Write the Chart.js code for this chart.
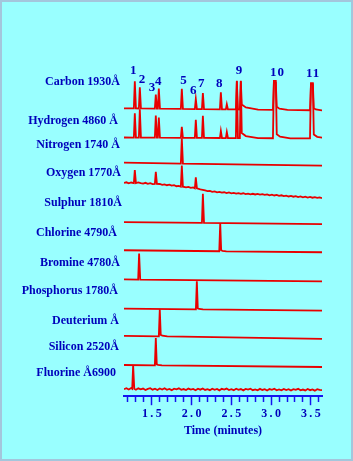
<!DOCTYPE html>
<html>
<head>
<meta charset="utf-8">
<style>
  html, body { margin: 0; padding: 0; background: #99ffff; }
  canvas { display: block; }
</style>
</head>
<body>
<canvas id="chrom" width="353" height="461"></canvas>
<script src="https://cdn.jsdelivr.net/npm/chart.js"></script>
<script>
// channel names, top to bottom
const channels = ['Carbon 1930Å', 'Hydrogen 4860 Å', 'Nitrogen 1740 Å', 'Oxygen 1770Å', 'Sulphur 1810Å',
  'Chlorine 4790Å', 'Bromine 4780Å', 'Phosphorus 1780Å', 'Deuterium Å', 'Silicon 2520Å', 'Fluorine Å6900'];

// peak numbers and their retention times (min)
const peakNumbers = ['1', '2', '3', '4', '5', '6', '7', '8', '9', '10', '11'];
const peakNumberTimes = [1.274, 1.383, 1.509, 1.588, 1.903, 2.028, 2.129, 2.355, 2.603, 3.081, 3.529];

// peaks per channel: [time, height, tail, flat half-width]
const carbonPeaks = [[1.286, 27], [1.349, 21], [1.550, 14], [1.588, 20], [1.877, 20], [2.053, 10], [2.142, 16],
  [2.368, 17], [2.443, 5], [2.569, 28, 0], [2.619, 28, 5], [3.047, 27, 3, 0.012], [3.513, 26, 2, 0.012]];
const hydrogenPeaks = [[1.286, 24], [1.349, 28], [1.550, 22], [1.588, 20], [1.877, 11], [2.053, 18], [2.142, 22],
  [2.368, 7], [2.443, 6], [2.569, 57, 0], [2.619, 57, 5], [3.047, 57, 4, 0.012], [3.513, 55, 4, 0.012]];
const nitrogenPeaks = [[1.877, 25]];
const oxygenPeaks = [[1.286, 13], [1.550, 12], [1.877, 21], [2.053, 11]];
const sulphurPeaks = [[2.142, 29]];
const chlorinePeaks = [[2.360, 28, 1]];
const brominePeaks = [[1.340, 26]];
const phosphorusPeaks = [[2.066, 28, 1]];
const deuteriumPeaks = [[1.600, 27, 1.5]];
const siliconPeaks = [[1.550, 27, 1]];
const fluorinePeaks = [[1.265, 23]];

// baselines (start, end) for the clean channels
const carbonBase = [[1.15, 0], [3.64, -2]];
const hydrogenBase = [[1.15, 0], [3.64, -1]];
const nitrogenBase = [[1.15, 0], [3.64, -3]];
const sulphurBase = [[1.15, 0], [3.64, -2]];
const chlorineBase = [[1.15, 0], [3.64, -2]];
const bromineBase = [[1.15, 0], [3.64, -2]];
const phosphorusBase = [[1.15, 0], [3.64, -2]];
const deuteriumBase = [[1.15, 0], [3.64, -3]];
const siliconBase = [[1.15, 0], [3.64, -2]];

// noisy baselines, sampled every 0.03 min from 1.15
const sampleStart = 1.15, sampleStep = 0.03;
const oxygenNoise = [0, 0.5, -0.5, 0.3, 0, -0.6, 0.4, -0.3, -0.8, 0, -1, -0.4, -1.3, -0.8, -1.6, -1.2, -2, -1.5,
  -2.4, -1.8, -2.8, -2.3, -3.4, -3, -4, -3.6, -4.5, -4, -5, -4.6, -5.5, -5.2, -6.5, -7, -7.6, -8.3, -8, -9,
  -8.6, -9.5, -9, -9.8, -9.4, -10.2, -9.6, -10.4, -10, -10.8, -10.2, -11, -10.4, -11.2, -10.8, -11.5, -10.9,
  -11.6, -11, -11.8, -11.3, -12, -11.5, -12.4, -11.8, -12.6, -12, -13, -12.4, -13.2, -12.8, -13.6, -13, -13.8,
  -13.2, -14.2, -13.6, -14.4, -13.8, -14.6, -14, -14.8, -14.3, -15, -14.5, -15.2];
const fluorineNoise = [0, 0.9, -0.4, 1.1, 0.2, -0.6, 0.8, -0.2, 0.6, -0.8, 0.3, 1, -0.5, 0.4, -0.9, 0.7, -0.3,
  0.9, -0.6, 0.2, -1, 0.5, -0.2, 0.8, -0.7, 0.1, -0.9, 0.6, -0.4, 0.3, -1.1, 0.4, -0.5, 0.7, -0.8, 0, -1, 0.5,
  -0.6, 0.2, -1.2, 0.3, -0.4, 0.6, -0.9, -0.1, -1, 0.4, -0.7, 0.1, -1.2, 0.2, -0.5, 0.5, -1, -0.2, -1.1, 0.3,
  -0.8, 0, -1.3, 0.1, -0.6, 0.4, -1.1, -0.3, -1.2, 0.2, -0.9, -0.1, -1.4, 0, -0.7, 0.3, -1.2, -0.4, -1.3, 0.1,
  -1, -0.2, -1.5, -0.1, -0.8, -1];

// x axis ticks
const majorTicks = [1.5, 2.0, 2.5, 3.0, 3.5];
const tickValues = [];
for (let v = 12; v <= 36; v++) tickValues.push(v / 10);

// layout: baseline of each channel (chart units = px above the axis), label positions
const channelOffset = [286, 257, 232, 212, 173, 145, 116, 87, 60, 31, 7];
const labelRight = [120, 118, 120, 121, 122, 117, 120, 118, 119, 119, 116];
const labelY = [82, 121, 145, 173, 203, 233, 263, 291, 321, 347, 373];
const numberY = [71, 80, 88, 82, 81, 91, 84, 84, 71, 73, 74];

const RED = '#e80000';
const BLUE = '#1414f0';
const TEXT = '#0000bb';
const SERIF = '"Liberation Serif", "Times New Roman", serif';

function sampled(noise) {
  return noise.map((y, i) => [sampleStart + i * sampleStep, y]);
}

function baseAt(base, t) {
  for (let i = 1; i < base.length; i++) {
    if (base[i][0] >= t) {
      const [t0, y0] = base[i - 1], [t1, y1] = base[i];
      return y0 + (y1 - y0) * (t - t0) / (t1 - t0);
    }
  }
  return base[base.length - 1][1];
}

function buildTrace(base, peaks, offset) {
  const windows = peaks.map(([t, h, tail = 0, half = 0]) => [t - half - 0.02, t + half + 0.03 + tail * 0.04]);
  const pts = base.filter(([t]) => !windows.some(([a, b]) => t > a && t < b)).map(([t, y]) => ({ x: t, y: y }));
  peaks.forEach(([t, h, tail = 0, half = 0]) => {
    const b = baseAt(base, t);
    pts.push({ x: t - half - 0.012, y: b });
    pts.push({ x: t - half, y: b + h });
    if (half) pts.push({ x: t + half, y: b + h });
    if (tail) {
      const len = 0.03 + tail * 0.035;
      pts.push({ x: t + half + 0.012, y: b + tail });
      pts.push({ x: t + half + 0.012 + len * 0.25, y: b + tail * 0.4 });
      pts.push({ x: t + half + 0.012 + len, y: baseAt(base, t + len) });
    } else {
      pts.push({ x: t + half + 0.014, y: b });
    }
  });
  pts.sort((p, q) => p.x - q.x);
  return pts.map(p => ({ x: p.x, y: p.y + offset }));
}

const traces = [
  buildTrace(carbonBase, carbonPeaks, channelOffset[0]),
  buildTrace(hydrogenBase, hydrogenPeaks, channelOffset[1]),
  buildTrace(nitrogenBase, nitrogenPeaks, channelOffset[2]),
  buildTrace(sampled(oxygenNoise), oxygenPeaks, channelOffset[3]),
  buildTrace(sulphurBase, sulphurPeaks, channelOffset[4]),
  buildTrace(chlorineBase, chlorinePeaks, channelOffset[5]),
  buildTrace(bromineBase, brominePeaks, channelOffset[6]),
  buildTrace(phosphorusBase, phosphorusPeaks, channelOffset[7]),
  buildTrace(deuteriumBase, deuteriumPeaks, channelOffset[8]),
  buildTrace(siliconBase, siliconPeaks, channelOffset[9]),
  buildTrace(sampled(fluorineNoise), fluorinePeaks, channelOffset[10]),
];

const isMajor = v => majorTicks.includes(Math.round(v * 10) / 10);

const backdrop = {
  id: 'backdrop',
  beforeDraw(chart) {
    const c = chart.ctx;
    c.save();
    c.fillStyle = '#99ffff';
    c.fillRect(0, 0, chart.width, chart.height);
    c.strokeStyle = '#a4c6dc';
    c.lineWidth = 2;
    c.strokeRect(1, 1, chart.width - 2, chart.height - 2);
    c.restore();
  }
};

const labels = {
  id: 'labels',
  afterDraw(chart) {
    const c = chart.ctx;
    const x = chart.scales.x;
    c.save();
    c.fillStyle = TEXT;
    c.textBaseline = 'middle';
    c.textAlign = 'right';
    c.font = 'bold 12px ' + SERIF;
    channels.forEach((name, i) => c.fillText(name, labelRight[i], labelY[i]));
    c.textAlign = 'center';
    c.font = 'bold 13px ' + SERIF;
    c.letterSpacing = '1px';
    peakNumbers.forEach((n, i) => c.fillText(n, x.getPixelForValue(peakNumberTimes[i]), numberY[i]));
    c.restore();
  }
};

new Chart(document.getElementById('chrom'), {
  type: 'line',
  data: {
    datasets: traces.map((pts, i) => ({ label: channels[i], data: pts }))
  },
  options: {
    responsive: false,
    animation: false,
    parsing: false,
    layout: { padding: { left: 124, right: 31, top: 60, bottom: 19 } },
    plugins: { legend: { display: false }, tooltip: { enabled: false } },
    elements: {
      point: { radius: 0 },
      line: { borderColor: RED, borderWidth: 1.8, tension: 0, fill: false }
    },
    scales: {
      x: {
        type: 'linear',
        min: 1.15,
        max: 3.64,
        afterBuildTicks: axis => { axis.ticks = tickValues.map(v => ({ value: v })); },
        grid: {
          drawOnChartArea: false,
          tickLength: 9,
          tickColor: BLUE,
          tickWidth: 1.5,
          tickBorderDash: ctx => (ctx.tick && isMajor(ctx.tick.value)) ? [] : [5, 30]
        },
        border: { color: BLUE, width: 2 },
        ticks: {
          autoSkip: false,
          maxRotation: 0,
          padding: 2,
          color: TEXT,
          font: { family: SERIF, size: 12, weight: 'bold' },
          callback: v => isMajor(v) ? v.toFixed(1).split('').join('\u2009') : ''
        },
        title: {
          display: true,
          text: 'Time (minutes)',
          color: TEXT,
          font: { family: SERIF, size: 12, weight: 'bold' },
          padding: { top: 0, bottom: 4 }
        }
      },
      y: { display: false, min: 0, max: 334 }
    }
  },
  plugins: [backdrop, labels]
});
</script>
</body>
</html>
